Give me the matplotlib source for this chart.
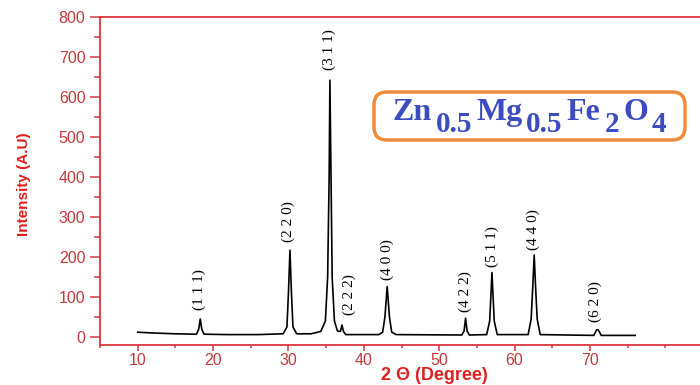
import matplotlib
matplotlib.use("Agg")
import matplotlib.pyplot as plt
from matplotlib.ticker import MultipleLocator
from matplotlib.patches import FancyBboxPatch
from matplotlib.transforms import IdentityTransform

# XRD trace (2theta, intensity)
two_theta = [10, 12, 15, 17.8, 18.1, 18.3, 18.5, 18.8, 22, 26, 29.3, 29.8, 30.0, 30.2,
             30.4, 30.6, 31.1, 33, 34.3, 34.9, 35.2, 35.4, 35.5, 35.65, 35.8, 36.1, 36.5,
             36.9, 37.1, 37.3, 37.6, 42, 42.5, 42.8, 43.1, 43.4, 43.7, 44.3, 53.0, 53.3,
             53.5, 53.7, 54.0, 56.3, 56.7, 57.0, 57.3, 57.7, 61.8, 62.2, 62.4, 62.6, 62.8,
             63.0, 63.4, 70.5, 70.9, 71.1, 71.5, 76]
intensity = [12, 10, 8, 7, 20, 45, 20, 7, 6, 6, 8, 25, 110, 217,
             110, 25, 8, 8, 14, 40, 150, 400, 642, 400, 150, 40, 15,
             14, 30, 14, 6, 6, 12, 50, 126, 50, 12, 6, 5, 15,
             47, 15, 5, 6, 40, 161, 40, 6, 6, 45, 120, 205, 120,
             45, 6, 4, 18, 18, 4, 4]

# Miller index labels: text, x position, bottom of label
hkl = ["(1 1 1)", "(2 2 0)", "(3 1 1)", "(2 2 2)", "(4 0 0)",
       "(4 2 2)", "(5 1 1)", "(4 4 0)", "(6 2 0)"]
hkl_x = [18.2, 30.0, 35.4, 38.1, 43.1, 53.4, 57.0, 62.5, 70.7]
hkl_y = [67, 237, 667, 55, 142, 62, 175, 217, 37]

x_ticks = [10, 20, 30, 40, 50, 60, 70]
y_ticks = [0, 100, 200, 300, 400, 500, 600, 700, 800]

# composition: element symbols and their subscripts
elements = ["Zn", "Mg", "Fe", "O"]
subscripts = ["0.5", "0.5", "2", "4"]

axis_red = '#d9363e'
tick_red = '#c0393b'
label_red = '#e0201f'
blue = '#3b4cc0'

W, H = 700, 385
fig = plt.figure(figsize=(7, 3.85), dpi=100)
ax = fig.add_axes([100 / W, 40 / H, 600 / W, 328 / H])

ax.plot(two_theta, intensity, color='black', lw=1.2)

for t, xx, yy in zip(hkl, hkl_x, hkl_y):
    ax.text(xx, yy, t, rotation=90, ha='center', va='bottom',
            family='Liberation Serif', fontsize=11, color='black')

ax.set_xlim(5, 84.6)
ax.set_ylim(-20, 800)
ax.set_xticks(x_ticks)
ax.set_yticks(y_ticks)
ax.xaxis.set_minor_locator(MultipleLocator(5))
ax.yaxis.set_minor_locator(MultipleLocator(50))

for s in ['left', 'bottom', 'top']:
    ax.spines[s].set_color(axis_red)
    ax.spines[s].set_linewidth(1.3)
ax.spines['right'].set_visible(False)

ax.tick_params(axis='y', which='major', direction='out', length=7, width=1.1,
               color=axis_red, labelcolor=tick_red, labelsize=11.5)
ax.tick_params(axis='y', which='minor', direction='out', length=4.5, width=1.1,
               color=axis_red)
ax.tick_params(axis='x', which='major', direction='out', length=4, width=1.1,
               color=axis_red, labelcolor=tick_red, labelsize=11.5, pad=2)
ax.tick_params(axis='x', which='minor', direction='out', length=2.5, width=1.1,
               color=axis_red)
ax.tick_params(top=False, which='both')
for lab in ax.get_xticklabels() + ax.get_yticklabels():
    lab.set_family('Liberation Sans')

ax.set_ylabel('Intensity (A.U)', family='Liberation Sans',
              fontweight='bold', fontsize=11, color=label_red)
ax.yaxis.set_label_coords(-0.115, 0.49)
ax.set_xlabel('2 \u0398 (Degree)', family='Liberation Sans', fontweight='bold',
              fontsize=13, color=label_red, va='center')
ax.xaxis.set_label_coords(0.558, -0.093)

# framed formula, laid out piece by piece in pixels
box = FancyBboxPatch((374, H - 140), 311, 48,
                     boxstyle='round,pad=0,rounding_size=13',
                     fc='white', ec='#f08a3c', lw=2.5, transform=IdentityTransform())
fig.patches.append(box)

renderer = fig.canvas.get_renderer()
pieces = []
for el, sub in zip(elements, subscripts):
    pieces.append((el, 0, 23))
    pieces.append((sub, -12, 21))
texts = []
widths = []
for s, dy, fs in pieces:
    t = fig.text(0, 0, s, family='Liberation Serif', fontweight='bold', fontsize=fs,
                 color=blue, va='baseline', ha='left')
    texts.append((t, dy))
    widths.append(t.get_window_extent(renderer).width)
gap = 4
total = sum(widths) + gap * (len(widths) - 1)
x = (374 + 685) / 2 - total / 2
base = H - 120
for (t, dy), w in zip(texts, widths):
    t.set_position((x / W, (base + dy) / H))
    x += w + gap

fig.savefig('out.png', dpi=100)
